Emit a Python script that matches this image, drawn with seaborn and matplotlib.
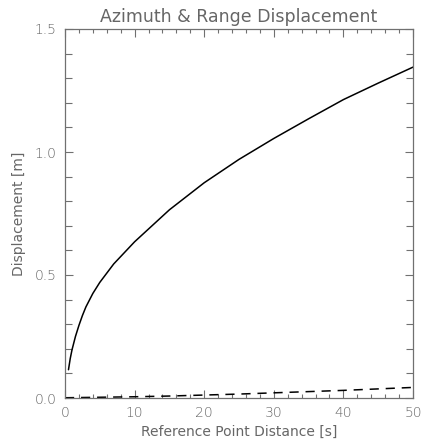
import matplotlib
matplotlib.use("Agg")
import matplotlib.pyplot as plt
from matplotlib.ticker import MultipleLocator, FormatStrFormatter
import seaborn as sns
import pandas as pd

# Data
azimuth_x = [0.5, 0.75, 1, 1.5, 2, 2.5, 3, 4, 5, 7, 10, 15, 20, 25, 30, 35, 40, 45, 50]
azimuth_y = [0.115, 0.16, 0.195, 0.25, 0.295, 0.335, 0.37, 0.425, 0.47, 0.545, 0.635, 0.765,
             0.875, 0.97, 1.055, 1.135, 1.213, 1.28, 1.345]
range_x = [0, 5, 10, 15, 20, 25, 30, 35, 40, 45, 50]
range_y = [0.001, 0.003, 0.005, 0.008, 0.012, 0.016, 0.021, 0.026, 0.031, 0.037, 0.043]

title = "Azimuth & Range Displacement"
xlabel = "Reference Point Distance [s]"
ylabel = "Displacement [m]"

sns.set_style("ticks")
plt.rcParams['font.family'] = ['DejaVu Sans']
plt.rcParams['font.weight'] = 'light'

TXT = "#666666"
AX = "#707070"

fig = plt.figure(figsize=(4.26, 4.45), dpi=100)
ax = fig.add_axes([65/426, 1 - 398/445, (413 - 65)/426, (398 - 29)/445])

df_az = pd.DataFrame({"x": azimuth_x, "y": azimuth_y})
df_rg = pd.DataFrame({"x": range_x, "y": range_y})
sns.lineplot(data=df_az, x="x", y="y", ax=ax, color="black", lw=1.1)
sns.lineplot(data=df_rg, x="x", y="y", ax=ax, color="black", lw=1.1,
             dashes=False)
ax.lines[-1].set_dashes((6, 4.5))

ax.set_xlim(0, 50)
ax.set_ylim(0, 1.5)
ax.xaxis.set_major_locator(MultipleLocator(10))
ax.xaxis.set_minor_locator(MultipleLocator(2))
ax.yaxis.set_major_locator(MultipleLocator(0.5))
ax.yaxis.set_minor_locator(MultipleLocator(0.1))
ax.yaxis.set_major_formatter(FormatStrFormatter("%.1f"))

for s in ax.spines.values():
    s.set_visible(True)
    s.set_color(AX)
    s.set_linewidth(0.9)

ax.tick_params(which="both", direction="in", top=True, right=True,
               color=AX, width=0.8, labelcolor=TXT, labelsize=10, pad=6)
ax.tick_params(which="major", length=6)
ax.tick_params(which="minor", length=3)
ax.tick_params(axis="y", which="minor", length=5)

ax.set_title(title, fontsize=12.5, color=TXT, pad=5)
ax.set_xlabel(xlabel, fontsize=10, color=TXT, labelpad=3)
ax.set_ylabel(ylabel, fontsize=10, color=TXT, labelpad=6)

fig.savefig("out.png", dpi=100)
